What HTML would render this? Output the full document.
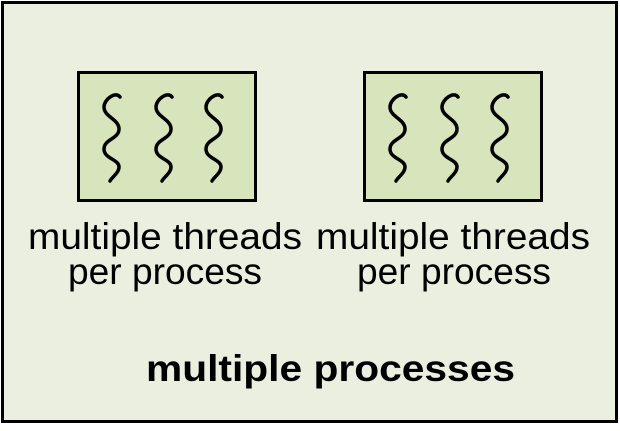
<!DOCTYPE html>
<html><head><style>html,body{margin:0;padding:0;background:#fff}</style></head>
<body>
<svg width="620" height="426" xmlns="http://www.w3.org/2000/svg" font-family="Liberation Sans, sans-serif">
<rect x="2.5" y="2.5" width="614" height="419" fill="#ebefdf" stroke="#000" stroke-width="3"/>
<defs>
<path id="sq" d="M0,0 C-4,-6 -16,2 -16,10 C-16,20 -1,22 -1,32 C-1,42 -16,42 -16,52 C-16,62 -1,62 -1,70 C-1,76 -8,80 -10,84" fill="none" stroke="#000" stroke-width="3.5" stroke-linecap="round"/>
</defs>
<rect x="78.5" y="72.5" width="177" height="128" fill="#d8e4bc" stroke="#000" stroke-width="3"/>
<use href="#sq" x="120" y="97"/><use href="#sq" x="172" y="97"/><use href="#sq" x="222" y="97"/>
<rect x="364.5" y="72.5" width="177" height="128" fill="#d8e4bc" stroke="#000" stroke-width="3"/>
<use href="#sq" x="406" y="97"/><use href="#sq" x="458" y="97"/><use href="#sq" x="508" y="97"/>
<g font-size="37" fill="#000">
<text x="28" y="249" textLength="274" lengthAdjust="spacingAndGlyphs">multiple threads</text>
<text x="68" y="284" textLength="194" lengthAdjust="spacingAndGlyphs">per process</text>
<text x="316" y="249" textLength="274" lengthAdjust="spacingAndGlyphs">multiple threads</text>
<text x="357" y="284" textLength="194" lengthAdjust="spacingAndGlyphs">per process</text>
<text x="146" y="381" font-weight="bold" textLength="369" lengthAdjust="spacingAndGlyphs">multiple processes</text>
</g>
</svg>
</body></html>
